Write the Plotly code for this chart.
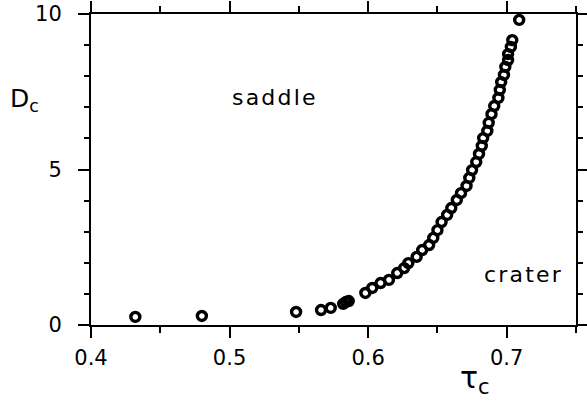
import plotly.graph_objects as go

tau_c = [0.432, 0.480, 0.548, 0.566, 0.573, 0.582, 0.584, 0.586,
         0.598, 0.603, 0.609, 0.615, 0.621, 0.626, 0.629, 0.635, 0.639,
         0.644, 0.647, 0.650, 0.653, 0.657, 0.660, 0.664, 0.667, 0.671,
         0.673, 0.675, 0.678, 0.680, 0.682, 0.683, 0.686, 0.687, 0.689,
         0.691, 0.694, 0.695, 0.696, 0.698, 0.699, 0.701, 0.701, 0.703,
         0.704, 0.709]
D_c = [0.26, 0.29, 0.42, 0.48, 0.55, 0.68, 0.74, 0.77,
       1.03, 1.19, 1.35, 1.45, 1.67, 1.83, 1.99, 2.19, 2.41,
       2.57, 2.80, 3.05, 3.31, 3.54, 3.76, 4.02, 4.24, 4.47,
       4.73, 4.98, 5.24, 5.50, 5.76, 6.01, 6.24, 6.50, 6.78,
       7.04, 7.30, 7.56, 7.81, 8.04, 8.30, 8.52, 8.71, 8.94,
       9.16, 9.81]

x_ticks = [0.4, 0.5, 0.6, 0.7]
y_ticks = [0, 5, 10]

FONT = "DejaVu Sans"

fig = go.Figure()
fig.add_trace(go.Scatter(
    x=tau_c, y=D_c, mode="markers",
    marker=dict(symbol="circle-open", size=9, color="black",
                line=dict(width=3.4, color="black")),
    showlegend=False, cliponaxis=False,
))

axis_common = dict(
    showline=True, linecolor="black", linewidth=2,
    mirror="allticks", ticks="outside", ticklen=11, tickwidth=2,
    tickcolor="black", showgrid=False, zeroline=False, automargin=False,
    tickfont=dict(family=FONT, size=21, color="black"),
)

fig.update_layout(
    width=587, height=404,
    margin=dict(l=91, r=11, t=14, b=79),
    paper_bgcolor="white", plot_bgcolor="white",
    xaxis=dict(range=[0.4, 0.75], tickvals=x_ticks,
               ticktext=[f"{v:.1f}" for v in x_ticks],
               minor=dict(dtick=0.05, ticklen=6, tickwidth=2,
                          tickcolor="black", ticks="outside"),
               ticklabelstandoff=2, **axis_common),
    yaxis=dict(range=[0, 10], tickvals=y_ticks,
               ticktext=[str(v) for v in y_ticks],
               minor=dict(dtick=1, ticklen=5, tickwidth=2,
                          tickcolor="black", ticks="outside"),
               ticklabelstandoff=12, **axis_common),
)

fig.add_annotation(x=0.532, y=7.3, xref="x", yref="y",
                   text="s\u200aa\u200ad\u200ad\u200al\u200ae", showarrow=False,
                   font=dict(family=FONT, size=22, color="black"))
fig.add_annotation(x=0.712, y=1.61, xref="x", yref="y",
                   text="c\u200ar\u200aa\u200at\u200ae\u200ar", showarrow=False,
                   font=dict(family=FONT, size=22, color="black"))
fig.add_annotation(x=-0.171, y=0.782, xref="paper", yref="paper",
                   text="D<sub>c</sub>", showarrow=False,
                   font=dict(family=FONT, size=25, color="black"))
fig.add_annotation(x=0.826, y=-0.245, xref="paper", yref="paper",
                   text="τ<sub>c</sub>", showarrow=False,
                   font=dict(family=FONT, size=30, color="black"))

fig.write_html("out.html")
